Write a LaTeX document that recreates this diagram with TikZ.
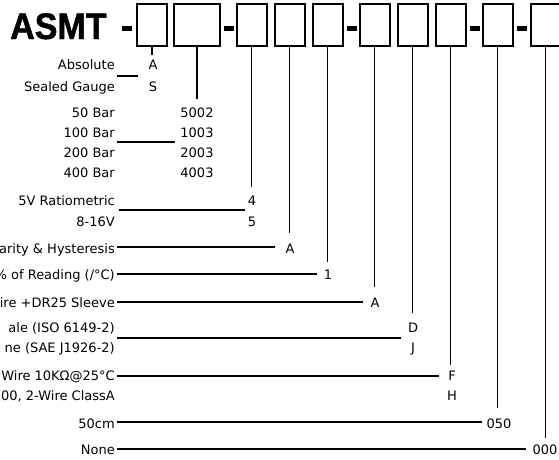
\documentclass[tikz,border=0pt]{standalone}
\usepackage{fontspec}
\setmainfont{DejaVu Sans}
\newfontfamily\titlefont[FakeStretch=0.92,FakeBold=1.2]{Liberation Sans}
\newcommand{\lbfont}{\fontsize{13}{15}\selectfont}
\begin{document}
\begin{tikzpicture}[x=1pt,y=-1pt,
  box/.style={draw,line width=2pt,minimum width=30pt,minimum height=42pt,inner sep=0pt,anchor=center},
  widebox/.style={box,minimum width=46pt},
  lbl/.style={anchor=base east,inner sep=0pt,font=\lbfont},
  code/.style={anchor=base,inner sep=0pt,font=\lbfont},
  conn/.style={line width=1.8pt},
  dashbar/.style={fill=black,minimum width=10pt,minimum height=5pt,inner sep=0pt}]
\useasboundingbox (0,0) rectangle (559,459);
\clip (0,0) rectangle (559,459);

% title
\node[anchor=base west,inner sep=0pt,font=\titlefont\bfseries\fontsize{37}{42}\selectfont] (title) at (10,39) {ASMT};

% boxes
\node[box] (b1) at (152,25) {};
\node[widebox] (b2) at (197,25) {};
\node[box] (b3) at (251.5,25) {};
\node[box] (b4) at (289.5,25) {};
\node[box] (b5) at (327.5,25) {};
\node[box] (b6) at (374.5,25) {};
\node[box] (b7) at (412.5,25) {};
\node[box] (b8) at (450.5,25) {};
\node[box] (b9) at (497.5,25) {};
\node[box] (b10) at (545.5,25) {};

% dashes
\node[dashbar] (d0) at (127,28) {};
\node[dashbar] (d1) at (228.5,28) {};
\node[dashbar] (d2) at (352,28) {};
\node[dashbar] (d3) at (475,28) {};
\node[dashbar] (d4) at (522,28) {};

% left labels
\node[lbl] (l1a) at (115,69.5) {Absolute};
\node[lbl] (l1b) at (115,91.5) {Sealed Gauge};
\node[lbl] (l2a) at (115,117) {50 Bar};
\node[lbl] (l2b) at (115,137) {100 Bar};
\node[lbl] (l2c) at (115,157) {200 Bar};
\node[lbl] (l2d) at (115,177) {400 Bar};
\node[lbl] (l3a) at (115,205) {5V Ratiometric};
\node[lbl] (l3b) at (115,226) {8-16V};
\node[lbl] (l4) at (115,253) {arity \& Hysteresis};
\node[lbl] (l5) at (115,279) {\% of Reading (/°C)};
\node[lbl] (l6) at (115,307) {ire +DR25 Sleeve};
\node[lbl] (l7a) at (115,332) {ale (ISO 6149-2)};
\node[lbl] (l7b) at (115,352) {ne (SAE J1926-2)};
\node[lbl] (l8a) at (115,380.5) {Wire 10KΩ@25°C};
\node[lbl] (l8b) at (115,400) {00, 2-Wire ClassA};
\node[lbl] (l9) at (115,428) {50cm};
\node[lbl] (l10) at (115,454) {None};

% codes
\node[code] (c1a) at (153,69.5) {A};
\node[code] (c1b) at (153,91.5) {S};
\node[code] (c2a) at (197,117) {5002};
\node[code] (c2b) at (197,137) {1003};
\node[code] (c2c) at (197,157) {2003};
\node[code] (c2d) at (197,177) {4003};
\node[code] (c3a) at (252,205) {4};
\node[code] (c3b) at (252,226) {5};
\node[code] (c4) at (290,253) {A};
\node[code] (c5) at (328,279) {1};
\node[code] (c6) at (375,307) {A};
\node[code] (c7a) at (413,332) {D};
\node[code] (c7b) at (413,352) {J};
\node[code] (c8a) at (452,380.5) {F};
\node[code] (c8b) at (452,400) {H};
\node[code] (c9) at (499,428) {050};
\node[code] (c10) at (545,454) {000};

% horizontal connector ends
\coordinate (h1s) at (117,76);   \coordinate (h1e) at (138,76);
\coordinate (h2s) at (117,142);  \coordinate (h2e) at (175,142);
\coordinate (h3s) at (119,210);  \coordinate (h3e) at (245,210);
\coordinate (h4s) at (117,247);  \coordinate (h4e) at (275,247);
\coordinate (h5s) at (117,274);  \coordinate (h5e) at (317,274);
\coordinate (h6s) at (117,302);  \coordinate (h6e) at (363,302);
\coordinate (h7s) at (117,338);  \coordinate (h7e) at (401,338);
\coordinate (h8s) at (117,376);  \coordinate (h8e) at (439,376);
\coordinate (h9s) at (117,422);  \coordinate (h9e) at (482,422);
\coordinate (h10s) at (117,449); \coordinate (h10e) at (526,449);

\foreach \i in {1,...,10} {\draw[conn] (h\i s) -- (h\i e);}

% vertical connectors from boxes
\coordinate (v1) at (152,55);
\coordinate (v2) at (197,99);
\coordinate (v3) at (251.5,187);
\coordinate (v4) at (289.5,233);
\coordinate (v5) at (327.5,262);
\coordinate (v6) at (374.5,287);
\coordinate (v7) at (412.5,313);
\coordinate (v8) at (450.5,365);
\coordinate (v9) at (497.5,408);
\coordinate (v10) at (545.5,438);
\foreach \i in {1,...,10} {\draw[conn] (b\i.south) -- (v\i);}
\end{tikzpicture}
\end{document}
